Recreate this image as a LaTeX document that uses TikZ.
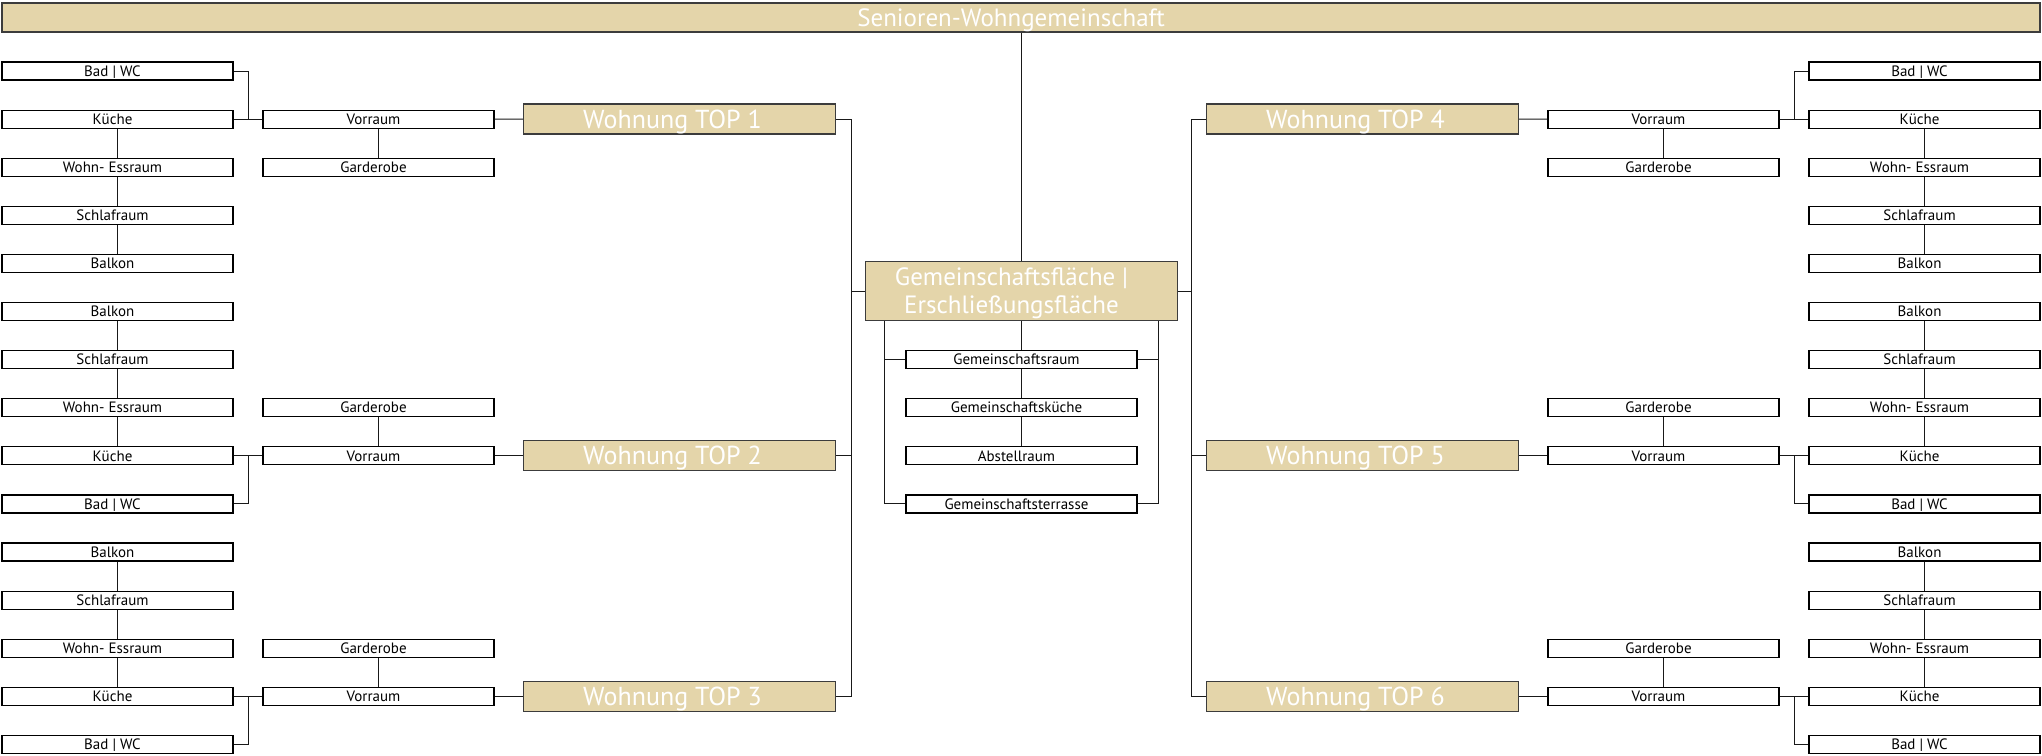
\documentclass[tikz,border=0pt]{standalone}
\usepackage{fontspec}
\setmainfont{PT Sans}
\definecolor{sand}{RGB}{228,213,170}
\definecolor{rim}{RGB}{60,60,60}
\definecolor{wire}{RGB}{25,25,25}
\begin{document}
\begin{tikzpicture}[x=1pt,y=-1pt,
  room/.style={draw=black,line width=1.2pt,fill=white,minimum width=231pt,minimum height=18pt,
    inner sep=0pt,font=\fontsize{15}{15}\selectfont,text height=10.5pt,text depth=0pt},
  flat/.style={draw=rim,line width=1.3pt,fill=sand,minimum width=312pt,minimum height=30pt,
    inner sep=0pt,font=\fontsize{26}{26}\selectfont,text=white,text height=18pt,text depth=0pt},
  link/.style={draw=wire,line width=1pt}]
\useasboundingbox (0,0) rectangle (2042,755);

% title bar and common area
\node[flat,minimum width=2038pt,minimum height=29pt,font=\fontsize{25}{25}\selectfont,text height=17pt]
  (top) at (1021,17.5) {\hspace*{-20pt}Senioren-Wohngemeinschaft};
\node[flat,minimum width=312.4pt,minimum height=59pt,align=center,text height=45.5pt,text depth=0pt,
  font=\fontsize{25}{28}\selectfont] (gem) at (1021.5,291.2)
  {\hspace*{-20pt}Gemeinschaftsfläche |\\\hspace*{-20pt}Erschließungsfläche};

% room columns, left and right
\foreach \r/\t in {1/{Bad | WC},2/Küche,3/{Wohn- Essraum},4/Schlafraum,5/Balkon,
                   6/Balkon,7/Schlafraum,8/{Wohn- Essraum},9/Küche,10/{Bad | WC},
                   11/Balkon,12/Schlafraum,13/{Wohn- Essraum},14/Küche,15/{Bad | WC}}{
  \node[room] (L\r) at (117.5,{71+48.1*(\r-1)}) {\hspace*{-10pt}\t};
  \node[room] (R\r) at (1924.5,{71+48.1*(\r-1)}) {\hspace*{-10pt}\t};
}

% entrance halls, wardrobes and flats
\foreach \k/\v/\g in {1/2/3,2/9/8,3/14/13}{
  \node[room] (VL\k) at (378.5,{71+48.1*(\v-1)}) {\hspace*{-10pt}Vorraum};
  \node[room] (GL\k) at (378.5,{71+48.1*(\g-1)}) {\hspace*{-10pt}Garderobe};
  \node[room] (VR\k) at (1663.5,{71+48.1*(\v-1)}) {\hspace*{-10pt}Vorraum};
  \node[room] (GR\k) at (1663.5,{71+48.1*(\g-1)}) {\hspace*{-10pt}Garderobe};
}
\node[flat] (W1) at (679.5,119) {\hspace*{-14pt}Wohnung TOP 1};
\node[flat] (W2) at (679.5,{71+48.1*8}) {\hspace*{-14pt}Wohnung TOP 2};
\node[flat] (W3) at (679.5,{71+48.1*13}) {\hspace*{-14pt}Wohnung TOP 3};
\node[flat] (W4) at (1362.5,119) {\hspace*{-14pt}Wohnung TOP 4};
\node[flat] (W5) at (1362.5,{71+48.1*8}) {\hspace*{-14pt}Wohnung TOP 5};
\node[flat] (W6) at (1362.5,{71+48.1*13}) {\hspace*{-14pt}Wohnung TOP 6};

% shared rooms
\node[room] (C1) at (1021.5,{71+48.1*6}) {\hspace*{-10pt}Gemeinschaftsraum};
\node[room] (C2) at (1021.5,{71+48.1*7}) {\hspace*{-10pt}Gemeinschaftsküche};
\node[room] (C3) at (1021.5,{71+48.1*8}) {\hspace*{-10pt}Abstellraum};
\node[room] (C4) at (1021.5,{71+48.1*9}) {\hspace*{-10pt}Gemeinschaftsterrasse};

% bus and bracket positions
\coordinate (busL) at (851,0);
\coordinate (busR) at (1191,0);
\coordinate (brL) at (248,0);
\coordinate (brR) at (1794,0);
\coordinate (cL) at (884.7,0);
\coordinate (cR) at (1158.3,0);

% title to common area
\draw[link] (gem.north) -- (gem.north |- top.south);
% flats to the common area
\draw[link] (W1.east) -- (W1.east -| busL) -- (W3.east -| busL) -- (W3.east);
\draw[link] (W2.east) -- (W2.east -| busL);
\draw[link] (gem.west) -- (gem.west -| busL);
\draw[link] (W4.west) -- (W4.west -| busR) -- (W6.west -| busR) -- (W6.west);
\draw[link] (W5.west) -- (W5.west -| busR);
\draw[link] (gem.east) -- (gem.east -| busR);

% shared rooms
\draw[link] (gem.south) -- (C1.north);
\draw[link] (C1.south) -- (C2.north);
\draw[link] (C2.south) -- (C3.north);
\draw[link] (gem.south -| cL) -- (C4.west -| cL) -- (C4.west);
\draw[link] (C1.west -| cL) -- (C1.west);
\draw[link] (gem.south -| cR) -- (C4.east -| cR) -- (C4.east);
\draw[link] (C1.east -| cR) -- (C1.east);

% room chains inside each flat
\foreach \s in {L,R}{
  \draw[link] (\s2.south) -- (\s3.north);
  \draw[link] (\s3.south) -- (\s4.north);
  \draw[link] (\s4.south) -- (\s5.north);
  \draw[link] (\s6.south) -- (\s7.north);
  \draw[link] (\s7.south) -- (\s8.north);
  \draw[link] (\s8.south) -- (\s9.north);
  \draw[link] (\s11.south) -- (\s12.north);
  \draw[link] (\s12.south) -- (\s13.north);
  \draw[link] (\s13.south) -- (\s14.north);
  \draw[link] (V\s1.south) -- (G\s1.north);
  \draw[link] (G\s2.south) -- (V\s2.north);
  \draw[link] (G\s3.south) -- (V\s3.north);
}
% left flats: kitchens, bathrooms, halls
\draw[link] (L1.east) -- (L1.east -| brL) -- (L2.east -| brL);
\draw[link] (L2.east) -- (VL1.west);
\draw[link] (VL1.east) -- (W1.west);
\draw[link] (L10.east) -- (L10.east -| brL) -- (L9.east -| brL);
\draw[link] (L9.east) -- (VL2.west);
\draw[link] (VL2.east) -- (W2.west);
\draw[link] (L15.east) -- (L15.east -| brL) -- (L14.east -| brL);
\draw[link] (L14.east) -- (VL3.west);
\draw[link] (VL3.east) -- (W3.west);
% right flats
\draw[link] (R1.west) -- (R1.west -| brR) -- (R2.west -| brR);
\draw[link] (R2.west) -- (VR1.east);
\draw[link] (VR1.west) -- (W4.east);
\draw[link] (R10.west) -- (R10.west -| brR) -- (R9.west -| brR);
\draw[link] (R9.west) -- (VR2.east);
\draw[link] (VR2.west) -- (W5.east);
\draw[link] (R15.west) -- (R15.west -| brR) -- (R14.west -| brR);
\draw[link] (R14.west) -- (VR3.east);
\draw[link] (VR3.west) -- (W6.east);
\end{tikzpicture}
\end{document}
